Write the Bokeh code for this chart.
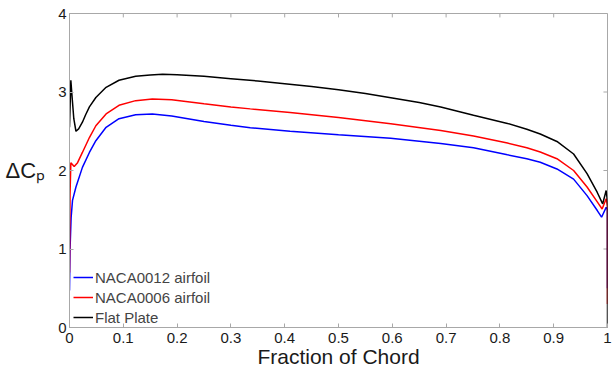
from bokeh.plotting import figure
from bokeh.models import Range1d, FixedTicker, Legend, LegendItem
from bokeh.embed import file_html
from bokeh.resources import INLINE

# Flat plate (black)
x_flat = [0.0, 0.0025, 0.005, 0.008, 0.012, 0.017, 0.024, 0.030, 0.037, 0.049, 0.068, 0.092,
          0.123, 0.150, 0.173, 0.200, 0.250, 0.300, 0.350, 0.400, 0.450, 0.500, 0.550, 0.600,
          0.650, 0.690, 0.751, 0.814, 0.850, 0.875, 0.906, 0.937, 0.962, 0.981, 0.991, 0.9975,
          1.0, 1.0]
y_flat = [2.55, 3.15, 2.92, 2.66, 2.50, 2.53, 2.615, 2.71, 2.81, 2.93, 3.06, 3.15,
          3.20, 3.215, 3.225, 3.22, 3.20, 3.17, 3.14, 3.105, 3.07, 3.03, 2.98, 2.925,
          2.865, 2.81, 2.705, 2.60, 2.525, 2.465, 2.37, 2.21, 1.96, 1.72, 1.575, 1.745,
          1.60, 0.0]

# NACA0006 (red)
x_0006 = [0.0, 0.001, 0.0025, 0.0087, 0.015, 0.024, 0.037, 0.049, 0.068, 0.092, 0.123,
          0.154, 0.190, 0.250, 0.300, 0.336, 0.410, 0.500, 0.597, 0.690, 0.751, 0.814,
          0.850, 0.875, 0.906, 0.937, 0.962, 0.981, 0.990, 0.9975, 1.0, 1.0]
y_0006 = [0.70, 1.70, 2.10, 2.05, 2.10, 2.23, 2.42, 2.57, 2.72, 2.83, 2.89,
          2.91, 2.90, 2.85, 2.81, 2.785, 2.74, 2.675, 2.595, 2.51, 2.44, 2.35,
          2.29, 2.235, 2.15, 2.00, 1.79, 1.60, 1.51, 1.64, 1.55, 0.30]

# NACA0012 (blue)
x_0012 = [0.0, 0.001, 0.003, 0.0056, 0.012, 0.024, 0.037, 0.049, 0.068, 0.092, 0.123,
          0.154, 0.190, 0.250, 0.300, 0.336, 0.410, 0.500, 0.597, 0.690, 0.751, 0.814,
          0.850, 0.875, 0.906, 0.937, 0.962, 0.981, 0.989, 0.9975, 1.0, 1.0]
y_0012 = [0.47, 1.00, 1.40, 1.62, 1.79, 2.04, 2.23, 2.38, 2.55, 2.66, 2.71,
          2.72, 2.695, 2.625, 2.575, 2.545, 2.50, 2.455, 2.41, 2.345, 2.29, 2.20,
          2.15, 2.105, 2.02, 1.89, 1.68, 1.49, 1.405, 1.53, 1.50, 0.50]

x_ticks = [0, 0.1, 0.2, 0.3, 0.4, 0.5, 0.6, 0.7, 0.8, 0.9, 1]
y_ticks = [0, 1, 2, 3, 4]
legend_labels = ["NACA0012 airfoil", "NACA0006 airfoil", "Flat Plate"]

FONT = "Liberation Sans"
GREY = "#a8a8a8"
TXT = "#1a1a1a"

X0, X1, Y0, Y1 = 0, 1, 0, 4

p = figure(width=612, height=370, output_backend="svg", toolbar_location=None,
           x_range=Range1d(X0, X1), y_range=Range1d(Y0, Y1),
           min_border_left=69, min_border_right=5, min_border_top=13, min_border_bottom=43)
p.grid.visible = False
p.outline_line_color = GREY
p.background_fill_color = "white"

for ax in [p.xaxis[0], p.yaxis[0]]:
    ax.axis_line_color = GREY
    ax.major_tick_line_color = GREY
    ax.major_tick_in = 4
    ax.major_tick_out = 0
    ax.minor_tick_line_color = None
    ax.major_label_text_font = FONT
    ax.major_label_text_font_size = "15px"
    ax.major_label_text_color = TXT
    ax.major_label_text_line_height = 0.9
    ax.axis_label_text_font = FONT
    ax.axis_label_text_font_style = "normal"
    ax.axis_label_text_color = TXT
    ax.axis_label_text_line_height = 0.8

p.xaxis[0].ticker = FixedTicker(ticks=x_ticks)
p.xaxis[0].major_label_overrides = {0: "0", 1: "1"}
p.xaxis[0].major_label_standoff = 5
p.xaxis[0].axis_label = "Fraction of Chord"
p.xaxis[0].axis_label_text_font_size = "21px"
p.xaxis[0].axis_label_standoff = -1

p.yaxis[0].ticker = FixedTicker(ticks=y_ticks)
p.yaxis[0].major_label_standoff = 3
p.yaxis[0].axis_label = "\u0394C\u209a"
p.yaxis[0].axis_label_text_font_size = "22px"
p.yaxis[0].axis_label_standoff = 10
try:
    p.yaxis[0].axis_label_orientation = "horizontal"
except Exception:
    pass

# inward ticks on the top and right edges of the box, from the tick lists
tick_len_y = 0.05
tick_len_x = 0.0075
p.segment(x0=x_ticks, y0=[Y1] * len(x_ticks), x1=x_ticks,
          y1=[Y1 - tick_len_y] * len(x_ticks), line_color=GREY, line_width=1)
p.segment(x0=[X1] * len(y_ticks), y0=y_ticks, x1=[X1 - tick_len_x] * len(y_ticks),
          y1=y_ticks, line_color=GREY, line_width=1)

r1 = p.line(x_0012, y_0012, line_color="#0000ff", line_width=1.5)
r2 = p.line(x_0006, y_0006, line_color="#ff0000", line_width=1.5)
r3 = p.line(x_flat, y_flat, line_color="#000000", line_width=1.5)

legend = Legend(items=[LegendItem(label=legend_labels[0], renderers=[r1]),
                       LegendItem(label=legend_labels[1], renderers=[r2]),
                       LegendItem(label=legend_labels[2], renderers=[r3])],
                location=(4, 0), margin=0, padding=2, spacing=0,
                glyph_width=20, glyph_height=20, label_height=20, label_standoff=2,
                label_text_font=FONT, label_text_font_size="15px",
                border_line_color=None, background_fill_alpha=0)
p.add_layout(legend)

open("out.html", "w").write(file_html(p, INLINE))
